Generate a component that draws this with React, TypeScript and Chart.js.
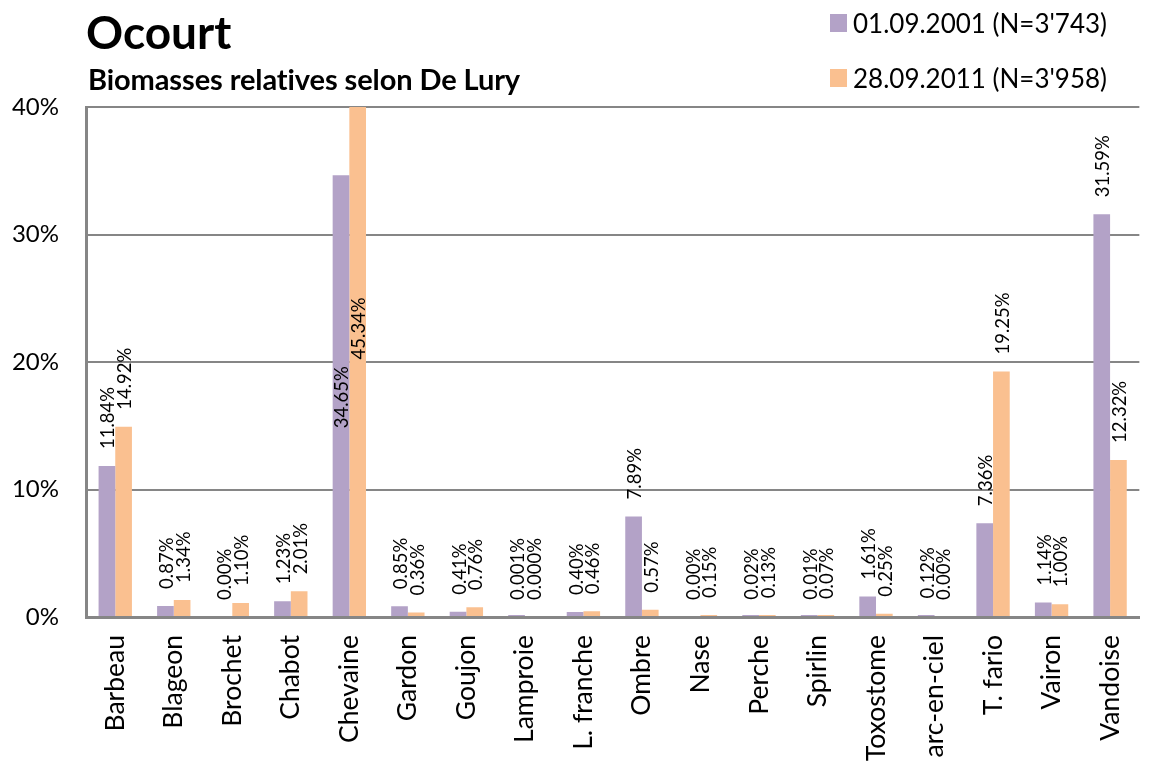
import React, { useEffect, useRef } from "react";
import { Chart, registerables } from "chart.js";

Chart.register(...registerables);

const categories = [
  "Barbeau", "Blageon", "Brochet", "Chabot", "Chevaine", "Gardon", "Goujon",
  "Lamproie", "L. franche", "Ombre", "Nase", "Perche", "Spirlin", "Toxostome",
  "arc-en-ciel", "T. fario", "Vairon", "Vandoise",
];

const series2001 = [11.84, 0.87, 0.0, 1.23, 34.65, 0.85, 0.41, 0.001, 0.4, 7.89, 0.0, 0.02, 0.01, 1.61, 0.12, 7.36, 1.14, 31.59];
const series2011 = [14.92, 1.34, 1.1, 2.01, 45.34, 0.36, 0.76, 0.0, 0.46, 0.57, 0.15, 0.13, 0.07, 0.25, 0.0, 19.25, 1.0, 12.32];

const labels2001 = ["11.84%", "0.87%", "0.00%", "1.23%", "34.65%", "0.85%", "0.41%", "0.001%", "0.40%", "7.89%", "0.00%", "0.02%", "0.01%", "1.61%", "0.12%", "7.36%", "1.14%", "31.59%"];
const labels2011 = ["14.92%", "1.34%", "1.10%", "2.01%", "45.34%", "0.36%", "0.76%", "0.000%", "0.46%", "0.57%", "0.15%", "0.13%", "0.07%", "0.25%", "0.00%", "19.25%", "1.00%", "12.32%"];

const seriesNames = ["01.09.2001 (N=3'743)", "28.09.2011 (N=3'958)"];
const seriesColors = ["#b3a2c7", "#fac090"];
const yTicks = [0, 10, 20, 30, 40];

const FONT = "Lato, 'Open Sans', sans-serif";

const valueLabelPlugin = {
  id: "valueLabels",
  afterDatasetsDraw(chart: any) {
    const ctx = chart.ctx;
    const yScale = chart.scales.y;
    const allValues = [series2001, series2011];
    const allLabels = [labels2001, labels2011];
    // Excel places these two labels inside the tall Chevaine bars
    const inside: Record<string, number> = { "0-4": 14.8, "1-4": 20.2 };
    ctx.save();
    ctx.font = `18.5px ${FONT}`;
    ctx.fillStyle = "#000";
    ctx.textAlign = "left";
    ctx.textBaseline = "middle";
    for (let d = 0; d < 2; d++) {
      const meta = chart.getDatasetMeta(d);
      meta.data.forEach((el: any, i: number) => {
        const v = allValues[d][i];
        let y: number;
        const key = `${d}-${i}`;
        if (inside[key] !== undefined) {
          y = yScale.getPixelForValue(inside[key]);
        } else {
          y = yScale.getPixelForValue(Math.min(v, yScale.max)) - 17;
        }
        ctx.save();
        ctx.translate(el.x + 1.5, y);
        ctx.rotate(-Math.PI / 2);
        ctx.fillText(allLabels[d][i], 0, 0);
        ctx.restore();
      });
    }
    ctx.restore();
  },
};

export default function App() {
  const canvasRef = useRef<HTMLCanvasElement | null>(null);

  useEffect(() => {
    if (!canvasRef.current) return;
    const chart = new Chart(canvasRef.current, {
      type: "bar",
      data: {
        labels: categories,
        datasets: [series2001, series2011].map((s, k) => ({
          label: seriesNames[k],
          data: s.map((v) => (v === 0 ? null : v)),
          backgroundColor: seriesColors[k],
          borderWidth: 0,
          minBarLength: 2,
          categoryPercentage: 0.57,
          barPercentage: 1.0,
        })),
      },
      options: {
        animation: false,
        responsive: false,
        layout: { padding: { top: 107, right: 4, left: 0, bottom: 0 } },
        plugins: {
          legend: { display: false },
          title: { display: false },
          tooltip: { enabled: false },
        },
        scales: {
          x: {
            grid: { display: false, drawTicks: false },
            border: { display: true, color: "#868686", width: 3 },
            ticks: {
              autoSkip: false,
              minRotation: 90,
              maxRotation: 90,
              padding: 18,
              color: "#000",
              font: { family: FONT, size: 26.5 },
            },
            afterFit: (scale: any) => {
              scale.height = 147;
            },
          },
          y: {
            min: yTicks[0],
            max: yTicks[yTicks.length - 1],
            afterBuildTicks: (scale: any) => {
              scale.ticks = yTicks.map((v) => ({ value: v }));
            },
            grid: { color: "#868686", lineWidth: 2, drawTicks: false },
            border: { display: true, color: "#868686", width: 3 },
            ticks: {
              padding: 27,
              color: "#000",
              font: { family: FONT, size: 24 },
              callback: (v: any) => `${v}%`,
            },
            afterFit: (scale: any) => {
              scale.width = 86;
            },
          },
        },
      },
      plugins: [valueLabelPlugin],
    });
    return () => chart.destroy();
  }, []);

  const legendItem = (k: number, top: number) => (
    <div
      style={{
        position: "absolute",
        left: 830,
        top,
        display: "flex",
        alignItems: "center",
        fontFamily: FONT,
        fontSize: 26,
        color: "#000",
        whiteSpace: "nowrap",
        lineHeight: "30px",
      }}
    >
      <span
        style={{
          display: "inline-block",
          width: 17,
          height: 18,
          background: seriesColors[k],
          marginRight: 6,
        }}
      />
      <span>{seriesNames[k]}</span>
    </div>
  );

  return (
    <div
      style={{
        position: "fixed",
        left: 0,
        top: 0,
        width: 1152,
        height: 764,
        overflow: "hidden",
        background: "#fff",
      }}
    >
      <canvas
        ref={canvasRef}
        width={1160}
        height={764}
        style={{ position: "absolute", left: 0, top: 0, width: 1160, height: 764 }}
      />
      <div
        style={{
          position: "absolute",
          left: 86,
          top: 5,
          fontFamily: FONT,
          fontWeight: 700,
          fontSize: 46,
          lineHeight: "54px",
          color: "#000",
        }}
      >
        Ocourt
      </div>
      <div
        style={{
          position: "absolute",
          left: 88,
          top: 61,
          fontFamily: FONT,
          fontWeight: 700,
          fontSize: 29,
          lineHeight: "36px",
          color: "#000",
          letterSpacing: -0.1,
        }}
      >
        Biomasses relatives selon De Lury
      </div>
      {legendItem(0, 8)}
      {legendItem(1, 63)}
    </div>
  );
}
